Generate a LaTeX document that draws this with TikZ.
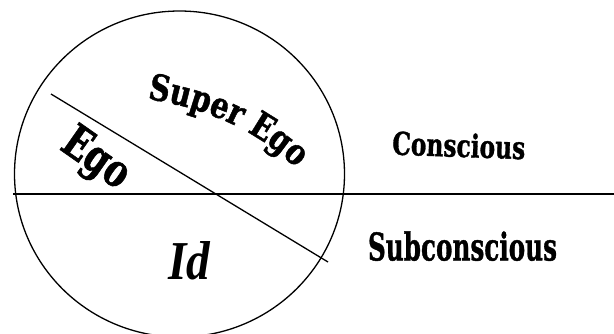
\documentclass[tikz,border=0pt]{standalone}
\usepackage{fontspec}
\usetikzlibrary{decorations.text}
\setmainfont{DejaVu Serif}
\newfontfamily\heavy{DejaVu Serif Bold}[FakeBold=1.2, FakeStretch=0.8]
\newfontfamily\heavyn{DejaVu Serif Bold}[FakeBold=1.2, FakeStretch=0.74]
\newfontfamily\heavyw{DejaVu Serif Bold}[FakeBold=1.2]
\newfontfamily\itfnt{Liberation Serif}
\begin{document}
\begin{tikzpicture}[x=1pt,y=-1pt,
  ln/.style={line width=1.3pt},
  lbl/.style={inner sep=0pt, outer sep=0pt}]
\useasboundingbox (0,0) rectangle (614,333);
% circle of the mind
\coordinate (c) at (179.5,174);
\draw[ln] (c) ellipse [x radius=165, y radius=163];
% lines
\coordinate (hl) at (13,194);
\coordinate (hr) at (614,194);
\draw[ln] (hl) -- (hr);
\coordinate (dl) at (51,94);
\coordinate (dr) at (328,262);
\draw[ln] (dl) -- (dr);
% curved Super Ego
\path[decorate, decoration={text along path, text align=center,
  text={|\heavy\fontsize{36}{36}\selectfont|Super Ego}}]
  (142,98) .. controls (203,107) and (256,128) .. (300,172);
% Ego
\node[lbl, rotate=-35] (ego) at (95,160) {\heavyn\fontsize{46}{46}\selectfont Ego};
% Id
\node[lbl, anchor=south west] (id) at (168,280) {\resizebox{42pt}{38pt}{\itfnt\bfseries\itshape Id}};
% Conscious / Subconscious
\node[lbl, anchor=south west, rotate=-2] (cons) at (392,155) {\resizebox{133pt}{24pt}{\heavyw Conscious}};
\node[lbl, anchor=south west] (sub) at (368,261) {\resizebox{189pt}{29pt}{\heavyw Subconscious}};
\end{tikzpicture}
\end{document}
